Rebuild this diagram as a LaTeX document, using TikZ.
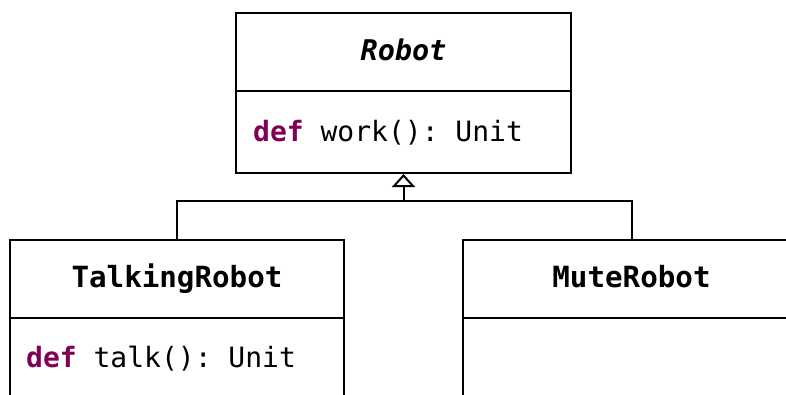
\documentclass[tikz,border=0pt]{standalone}
\usepackage{fontspec}
\setmonofont{DejaVu Sans Mono}
\usetikzlibrary{arrows.meta}
\definecolor{kw}{HTML}{7F0055}
\tikzset{
  box/.style={draw, line width=2pt, inner sep=0pt, minimum width=#1},
  lbl/.style={inner sep=0pt, font=\ttfamily\fontsize{28}{34}\selectfont},
  ttl/.style={inner sep=0pt, anchor=base, font=\ttfamily\bfseries\fontsize{29.2}{34}\selectfont},
  conn/.style={line width=2pt},
}
\begin{document}
\begin{tikzpicture}[x=1pt,y=-1pt]
\useasboundingbox (0,0) rectangle (786,394);
% Robot
\node[box=335pt, minimum height=78pt] (roboth) at (403.5,52) {};
\node[box=335pt, minimum height=82pt] (robotb) at (403.5,132) {};
\node[ttl, font=\ttfamily\bfseries\itshape\fontsize{28.5}{34}\selectfont] (robott) at (403.5,60) {Robot};
\node[lbl, anchor=base west] (robotm) at (253,141) {\textcolor{kw}{\bfseries def} work(): Unit};
% TalkingRobot
\node[box=334pt, minimum height=78pt] (talkh) at (177,279) {};
\node[box=334pt, minimum height=112pt] (talkb) at (177,374) {};
\node[ttl] (talkt) at (177,287) {TalkingRobot};
\node[lbl, anchor=base west] (talkm) at (26,367) {\textcolor{kw}{\bfseries def} talk(): Unit};
% MuteRobot
\node[box=337pt, minimum height=78pt] (muteh) at (631.5,279) {};
\node[box=337pt, minimum height=112pt] (muteb) at (631.5,374) {};
\node[ttl] (mutet) at (631.5,287) {MuteRobot};
% connectors
\coordinate (j) at (403.5,201);
\draw[conn, -{Triangle[open, width=23pt, length=13pt, line width=2pt]}] (j) -- (robotb.south);
\draw[conn] (talkh.north) |- (j) -| (muteh.north);
\end{tikzpicture}
\end{document}
